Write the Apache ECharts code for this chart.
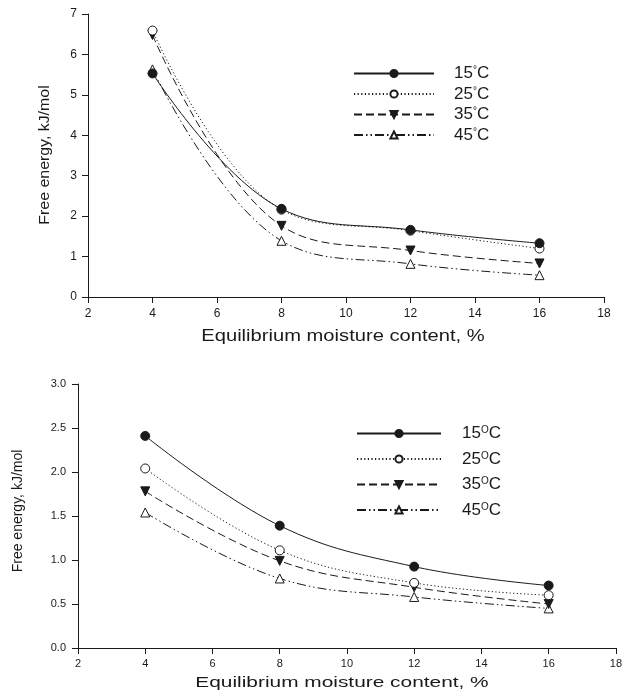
<!DOCTYPE html>
<html>
<head>
<meta charset="utf-8">
<script src="https://cdn.jsdelivr.net/npm/echarts@6/dist/echarts.min.js"></script>
<style>
html,body{margin:0;padding:0;background:#fff;}
#chart{width:625px;height:699px;}
</style>
</head>
<body>
<div id="chart"></div>
<script>
// ---- data ----
const moisture = [4, 8, 12, 16];
const temperatures = ['15', '25', '35', '45'];
// top panel (kJ/mol)
const top15 = [5.53, 2.18, 1.66, 1.33];
const top25 = [6.59, 2.16, 1.64, 1.20];
const top35 = [6.48, 1.76, 1.15, 0.83];
const top45 = [5.63, 1.39, 0.82, 0.54];
// bottom panel (kJ/mol)
const bot15 = [2.41, 1.39, 0.925, 0.71];
const bot25 = [2.04, 1.11, 0.74, 0.60];
const bot35 = [1.78, 0.99, 0.69, 0.50];
const bot45 = [1.54, 0.79, 0.58, 0.45];
const xTitle = 'Equilibrium moisture content, %';
const yTitle = 'Free energy, kJ/mol';

const FONT = '"Liberation Sans", Arial, sans-serif';
const INK = '#1a1a1a';

const styles = [
  {symbol: 'circle', fill: INK, rotate: 0, line: 'solid'},
  {symbol: 'circle', fill: '#fff', rotate: 0, line: [1.2, 2.4]},
  {symbol: 'triangle', fill: INK, rotate: 180, line: [8, 4]},
  {symbol: 'triangle', fill: '#fff', rotate: 0, line: [9, 3, 1.5, 3, 1.5, 3]}
];

function zip(vals) { return moisture.map((m, i) => [m, vals[i]]); }

function makeSeries(panel, arrays, gridIdx, symSize) {
  return arrays.map((vals, i) => ({
    name: panel + temperatures[i],
    type: 'line',
    xAxisIndex: gridIdx,
    yAxisIndex: gridIdx,
    data: zip(vals),
    smooth: 0.4,
    symbol: styles[i].symbol,
    symbolSize: symSize,
    symbolRotate: styles[i].rotate,
    lineStyle: {color: INK, width: 1, type: styles[i].line},
    itemStyle: {color: styles[i].fill, borderColor: INK, borderWidth: 1},
    emphasis: {disabled: true},
    animation: false,
    z: 10 - i
  }));
}

function axisCommon(fontSize, margin) {
  return {
    axisLine: {show: true, lineStyle: {color: INK, width: 1}},
    axisTick: {show: true, inside: false, length: 6, lineStyle: {color: INK}},
    splitLine: {show: false},
    axisLabel: {color: INK, fontFamily: FONT, fontSize: fontSize, margin: margin}
  };
}

function legendFor(panel, left, top, supStyle, gap, width, pad) {
  return {
    show: true,
    orient: 'vertical',
    left: left,
    top: top,
    itemWidth: width,
    itemHeight: 9,
    itemGap: gap,
    selectedMode: false,
    data: temperatures.map(t => panel + t),
    formatter: function (name) { return '{n|' + name.slice(1) + '}{s|' + supStyle + '}{n|C}'; },
    textStyle: {
      padding: [0, 0, 0, pad],
      rich: {
        n: {fontFamily: FONT, fontSize: 17, color: INK, lineHeight: 16},
        s: {fontFamily: FONT, fontSize: supStyle === 'o' ? 9 : 10, color: INK, verticalAlign: 'top', lineHeight: 16, padding: [0, 0, 8, 0]}
      }
    }
  };
}

function titleText(text, x, y, size, scaleX, rotated) {
  return {
    type: 'text',
    x: x, y: y,
    rotation: rotated ? Math.PI / 2 : 0,
    scaleX: scaleX,
    silent: true,
    style: {text: text, fontFamily: FONT, fontSize: size, fill: INK, align: 'center', verticalAlign: 'middle'}
  };
}

const chart = echarts.init(document.getElementById('chart'), null, {renderer: 'canvas'});
const option = {
  backgroundColor: '#fff',
  animation: false,
  grid: [
    {left: 88, top: 14, width: 516, height: 283},
    {left: 78, top: 384, width: 541, height: 264}
  ],
  xAxis: [
    Object.assign(axisCommon(12, 11), {type: 'value', gridIndex: 0, min: 2, max: 18, interval: 2}),
    Object.assign(axisCommon(11, 10), {type: 'value', gridIndex: 1, min: 2, max: 18, interval: 2})
  ],
  yAxis: [
    Object.assign(axisCommon(12, 11), {type: 'value', gridIndex: 0, min: 0, max: 7, interval: 1}),
    Object.assign(axisCommon(11, 12), {type: 'value', gridIndex: 1, min: 0, max: 3, interval: 0.5})
  ],
  legend: [
    legendFor('a', 348, 60, '°', 2, 80, 15),
    legendFor('b', 351, 420, 'O', 7, 84, 16)
  ],
  graphic: [
    titleText(xTitle, 343, 337, 16, 1.26, false),
    titleText(xTitle, 342, 683, 14, 1.49, false),
    titleText(yTitle, 45, 155, 15, 1.06, true),
    titleText(yTitle, 18, 511, 14, 1.0, true)
  ],
  series: [].concat(
    makeSeries('a', [top15, top25, top35, top45], 0, 9),
    makeSeries('b', [bot15, bot25, bot35, bot45], 1, 9)
  )
};
option.yAxis[1].axisLabel.formatter = v => v.toFixed(1);
chart.setOption(option);
</script>
</body>
</html>
